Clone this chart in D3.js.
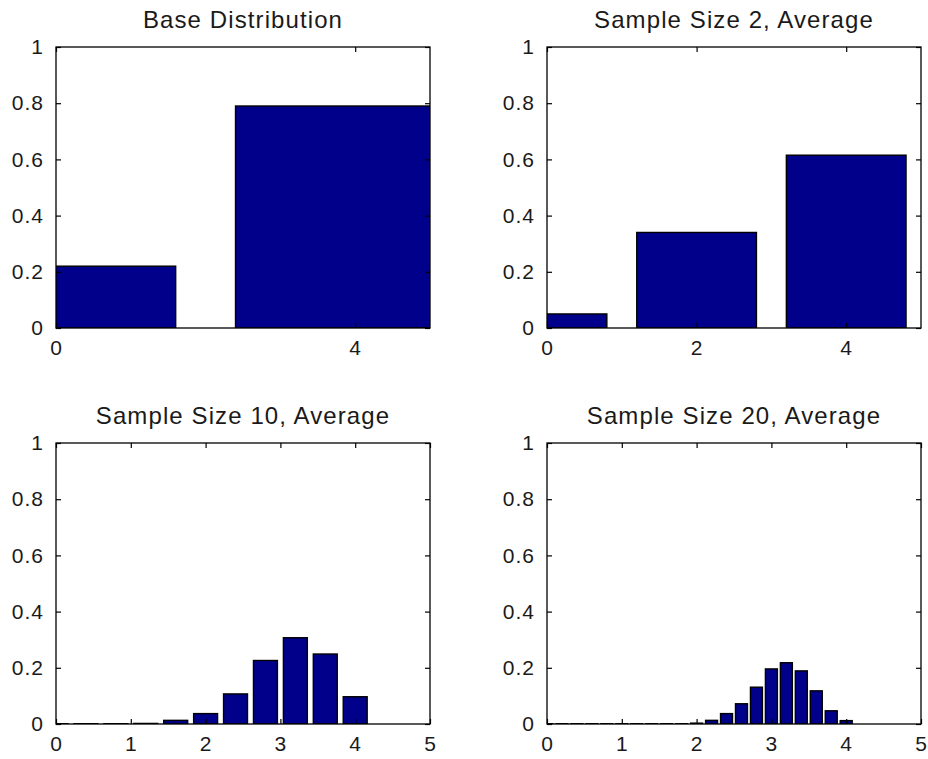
<!DOCTYPE html>
<html>
<head>
<meta charset="utf-8">
<script src="https://cdn.jsdelivr.net/npm/d3@7"></script>
<style>
  body { margin: 0; background: #fff; }
  svg { display: block; }
  text { font-family: "Liberation Sans", Arial, sans-serif; fill: #1a1a1a; }
</style>
</head>
<body>
<script>
// values
const titles = ["Base Distribution", "Sample Size 2, Average", "Sample Size 10, Average", "Sample Size 20, Average"];

const baseCenters = [0, 4];
const baseValues = [0.22, 0.79];

const avg2Centers = [0, 2, 4];
const avg2Values = [0.05, 0.34, 0.615];

const avg10Centers = [0, 0.4, 0.8, 1.2, 1.6, 2.0, 2.4, 2.8, 3.2, 3.6, 4.0];
const avg10Values = [0.001, 0.001, 0.001, 0.002, 0.013, 0.037, 0.107, 0.226, 0.307, 0.249, 0.097];

const avg20Centers = [0, 0.2, 0.4, 0.6, 0.8, 1.0, 1.2, 1.4, 1.6, 1.8, 2.0,
                      2.2, 2.4, 2.6, 2.8, 3.0, 3.2, 3.4, 3.6, 3.8, 4.0];
const avg20Values = [0.001, 0.001, 0.001, 0.001, 0.001, 0.001, 0.001, 0.001, 0.001, 0.001, 0.003,
                     0.013, 0.037, 0.072, 0.131, 0.196, 0.218, 0.189, 0.118, 0.047, 0.012];

const xTicks = [[0, 4], [0, 2, 4], [0, 1, 2, 3, 4, 5], [0, 1, 2, 3, 4, 5]];
const yTicks = [0, 0.2, 0.4, 0.6, 0.8, 1];

const width = 928, height = 759;

const svg = d3.select('body').append('svg')
    .attr('width', width)
    .attr('height', height);

const cols = [[56, 430], [547, 921]];
const rows = [[47, 328], [443, 724]];

const panels = [
  { centers: baseCenters, values: baseValues, col: 0, row: 0 },
  { centers: avg2Centers, values: avg2Values, col: 1, row: 0 },
  { centers: avg10Centers, values: avg10Values, col: 0, row: 1 },
  { centers: avg20Centers, values: avg20Values, col: 1, row: 1 }
];

panels.forEach((p, i) => {
  const [x0, x1] = cols[p.col];
  const [y0, y1] = rows[p.row];

  const x = d3.scaleLinear().domain([0, 5]).range([x0, x1]);
  const y = d3.scaleLinear().domain([0, 1]).range([y1, y0]);

  // matlab bar: width 0.8 of the spacing
  const step = p.centers[1] - p.centers[0];
  const bw = 0.8 * step;

  const clipId = 'clip' + i;
  svg.append('clipPath').attr('id', clipId)
    .append('rect')
    .attr('x', x0).attr('y', y0)
    .attr('width', x1 - x0).attr('height', y1 - y0);

  const g = svg.append('g');

  g.append('g')
    .attr('clip-path', `url(#${clipId})`)
    .selectAll('rect')
    .data(p.centers)
    .join('rect')
    .attr('x', d => x(d - bw / 2))
    .attr('width', d => x(d + bw / 2) - x(d - bw / 2))
    .attr('y', (d, j) => y(p.values[j]))
    .attr('height', (d, j) => y(0) - y(p.values[j]))
    .attr('fill', '#00008b')
    .attr('stroke', '#000')
    .attr('stroke-width', 1.4);

  // axes, ticks pointing inward like matlab
  const left = g.append('g')
    .attr('transform', `translate(${x0},0)`)
    .call(d3.axisLeft(y).tickValues(yTicks).tickSize(-5).tickPadding(12)
      .tickFormat(d => d === 0 ? '0' : d === 1 ? '1' : d3.format('.1f')(d)));
  const right = g.append('g')
    .attr('transform', `translate(${x1},0)`)
    .call(d3.axisRight(y).tickValues(yTicks).tickSize(-5).tickFormat(''));
  const bottom = g.append('g')
    .attr('transform', `translate(0,${y1})`)
    .call(d3.axisBottom(x).tickValues(xTicks[i]).tickSize(-5).tickPadding(12)
      .tickFormat(d3.format('d')));
  const top = g.append('g')
    .attr('transform', `translate(0,${y0})`)
    .call(d3.axisTop(x).tickValues(xTicks[i]).tickSize(-5).tickFormat(''));

  [left, right, bottom, top].forEach(a => {
    a.select('.domain').remove();
    a.selectAll('line').attr('stroke', '#000').attr('stroke-width', 1.2);
    a.selectAll('text').attr('font-size', 21).attr('fill', '#1a1a1a')
      .style('font-family', '"Liberation Sans", Arial, sans-serif')
      .style('letter-spacing', '1px');
  });

  g.append('rect')
    .attr('x', x0).attr('y', y0)
    .attr('width', x1 - x0).attr('height', y1 - y0)
    .attr('fill', 'none')
    .attr('stroke', '#000')
    .attr('stroke-width', 1.3);

  g.append('text')
    .attr('x', (x0 + x1) / 2)
    .attr('y', y0 - 19.5)
    .attr('text-anchor', 'middle')
    .attr('font-size', 24)
    .style('letter-spacing', '1.1px')
    .text(titles[i]);
});
</script>
</body>
</html>
